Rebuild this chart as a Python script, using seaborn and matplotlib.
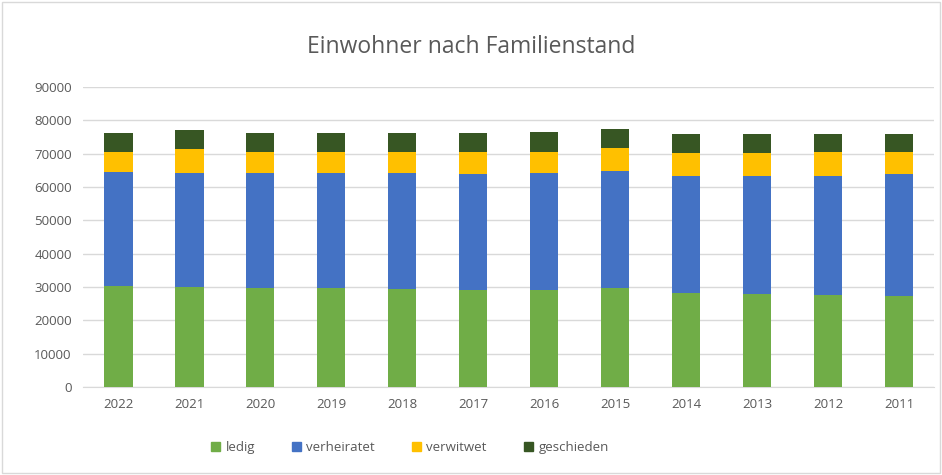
import matplotlib.pyplot as plt
import matplotlib.patches as mpatches
import numpy as np
import pandas as pd
import seaborn as sns

years = ['2022', '2021', '2020', '2019', '2018', '2017', '2016', '2015', '2014', '2013', '2012', '2011']
ledig = [30300, 30100, 29800, 29600, 29300, 29100, 29100, 29600, 28100, 27900, 27600, 27400]
verheiratet = [34300, 34200, 34300, 34500, 34800, 34700, 35000, 35300, 35200, 35400, 35800, 36500]
verwitwet = [5900, 7100, 6400, 6400, 6500, 6700, 6500, 6700, 6800, 6800, 7000, 6700]
geschieden = [5800, 5700, 5800, 5800, 5700, 5800, 5900, 5800, 5800, 5800, 5500, 5300]

labels = ['ledig', 'verheiratet', 'verwitwet', 'geschieden']
colors = ['#70ad47', '#4472c4', '#ffc000', '#375623']

df = pd.DataFrame({'jahr': years, 'ledig': ledig, 'verheiratet': verheiratet,
                   'verwitwet': verwitwet, 'geschieden': geschieden})
# cumulative sums for stacking (draw tallest first)
cum = df[labels].cumsum(axis=1)

sns.set_style('white')
plt.rcParams['font.family'] = ['Open Sans', 'DejaVu Sans']

fig = plt.figure(figsize=(9.42, 4.75), dpi=100)
ax = fig.add_axes([0.088, 0.185, 0.904, 0.632])

for lab, col in reversed(list(zip(labels, colors))):
    sns.barplot(x=df['jahr'], y=cum[lab], order=years, color=col, width=0.4,
                saturation=1, linewidth=0, ax=ax, zorder=3)

ax.set_ylim(0, 90000)
ax.set_yticks(np.arange(0, 90001, 10000))
ax.set_xlim(-0.5, len(years) - 0.5)
ax.grid(axis='y', color='#d9d9d9', linewidth=1, zorder=0)
ax.set_axisbelow(True)
for s in ['top', 'right', 'left']:
    ax.spines[s].set_visible(False)
ax.spines['bottom'].set_color('#d9d9d9')
ax.tick_params(axis='both', length=0, labelsize=9.5, colors='#595959', pad=8)
ax.set_xlabel('')
ax.set_ylabel('')

fig.text(0.5, 0.902, 'Einwohner nach Familienstand', ha='center', va='center',
         fontsize=16.5, color='#595959')

handles = [mpatches.Patch(color=c, label=l) for l, c in zip(labels, colors)]
fig.legend(handles=handles, loc='center', bbox_to_anchor=(0.435, 0.058), ncol=4,
           frameon=False, fontsize=9.5, handlelength=0.7, handleheight=0.7,
           handletextpad=0.4, columnspacing=2.8, labelcolor='#595959')

# thin frame round the whole chart
fig.patches.append(mpatches.Rectangle((0.002, 0.004), 0.996, 0.992, transform=fig.transFigure,
                                      fill=False, edgecolor='#d9d9d9', linewidth=1))

fig.savefig('out.png', dpi=100)
